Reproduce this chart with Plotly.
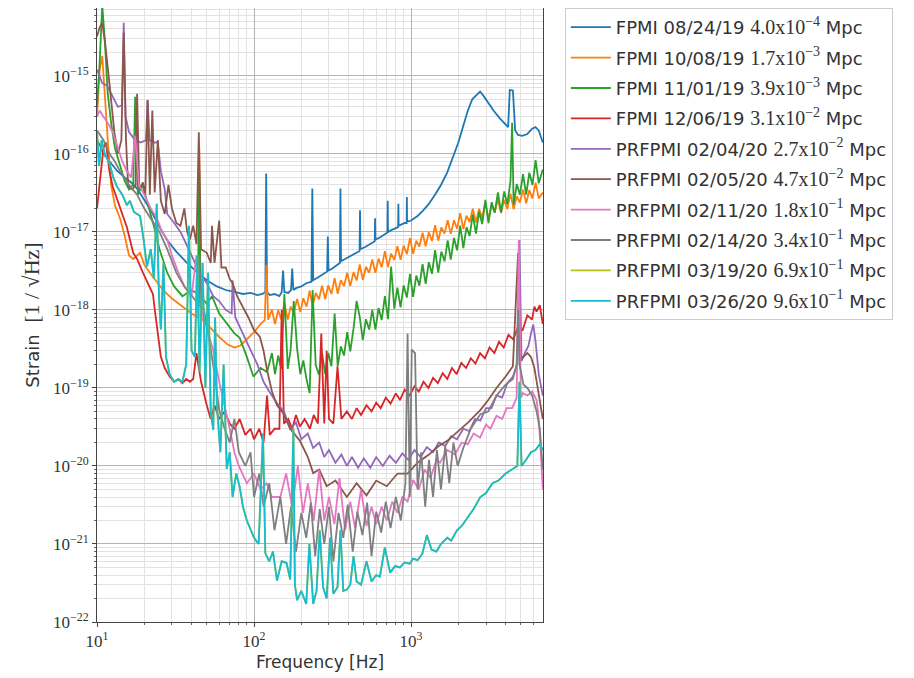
import plotly.graph_objects as go

# ---------------- data ----------------
labels = ["FPMI 08/24/19", "FPMI 10/08/19", "FPMI 11/01/19", "FPMI 12/06/19",
          "PRFPMI 02/04/20", "PRFPMI 02/05/20", "PRFPMI 02/11/20", "PRFPMI 02/14/20",
          "PRFPMI 03/19/20", "PRFPMI 03/26/20"]
range_mant = ["4.0", "1.7", "3.9", "3.1", "2.7", "4.7", "1.8", "3.4", "6.9", "9.6"]
range_exp = ["−4", "−3", "−3", "−2", "−2", "−2", "−1", "−1", "−1", "−1"]
colors = ["#1f77b4", "#ff7f0e", "#2ca02c", "#d62728", "#9467bd",
          "#8c564b", "#e377c2", "#7f7f7f", "#bcbd22", "#17becf"]

# FPMI 08/24/19
f_0824 = [10, 10.5, 11, 11.7, 12.5, 13.5, 15, 16.5, 18, 20,
          22, 25, 28, 32, 37, 43, 50, 58, 66, 75,
          85, 95, 105, 113, 118, 119.5, 121, 126, 135, 145,
          150, 153, 156, 165, 172, 175, 178, 185, 200, 215,
          232, 235, 238, 255, 275, 292, 295, 298, 315, 335,
          352, 355, 358, 380, 410, 440, 470, 473, 476, 510,
          550, 587, 590, 593, 640, 680, 707, 710, 713, 760,
          800, 827, 830, 833, 870, 910, 937, 940, 943, 1000,
          1100, 1200, 1300, 1420, 1550, 1700, 1850, 2000, 2150, 2300,
          2450, 2600, 2750, 2900, 3100, 3350, 3650, 3950, 4150, 4250,
          4350, 4450, 4600, 4800, 5100, 5500, 5900, 6200, 6500, 6900]
s_0824 = [1.5e-16, 1.25e-16, 1.0e-16, 8.5e-17, 7.2e-17, 6.0e-17, 5.0e-17, 4.3e-17, 3.6e-17, 2.6e-17,
          1.9e-17, 1.15e-17, 7.8e-18, 5.6e-18, 4.1e-18, 3.1e-18, 2.4e-18, 2.0e-18, 1.8e-18, 1.7e-18,
          1.6e-18, 1.65e-18, 1.55e-18, 1.6e-18, 1.7e-18, 5.6e-17, 1.7e-18, 1.55e-18, 1.6e-18, 1.5e-18,
          1.7e-18, 3.2e-18, 1.7e-18, 1.65e-18, 1.8e-18, 3.4e-18, 1.8e-18, 1.9e-18, 2.0e-18, 2.2e-18,
          2.3e-18, 3.6e-17, 2.4e-18, 2.6e-18, 2.9e-18, 3.1e-18, 8.7e-18, 3.2e-18, 3.4e-18, 3.7e-18,
          4.0e-18, 3.6e-17, 4.2e-18, 4.5e-18, 4.9e-18, 5.4e-18, 5.7e-18, 1.9e-17, 6.0e-18, 6.4e-18,
          7.0e-18, 7.6e-18, 1.5e-17, 8.0e-18, 8.6e-18, 9.3e-18, 9.8e-18, 2.5e-17, 1.0e-17, 1.07e-17,
          1.12e-17, 1.15e-17, 2.3e-17, 1.2e-17, 1.25e-17, 1.3e-17, 1.3e-17, 2.8e-17, 1.35e-17, 1.4e-17,
          1.6e-17, 1.9e-17, 2.3e-17, 3.0e-17, 4.0e-17, 5.8e-17, 9.0e-17, 1.4e-16, 2.3e-16, 3.6e-16,
          5.0e-16, 5.6e-16, 6.3e-16, 5.5e-16, 4.5e-16, 3.6e-16, 2.9e-16, 2.4e-16, 2.2e-16, 6.6e-16,
          6.6e-16, 6.5e-16, 2.0e-16, 1.75e-16, 1.7e-16, 1.8e-16, 2.1e-16, 2.2e-16, 2.0e-16, 1.4e-16]

# FPMI 10/08/19
f_1008 = [10, 10.4, 10.8, 11.3, 11.8, 12.3, 13, 14, 15, 16,
          17, 18.8, 20, 21.7, 24, 26.3, 30, 35, 40, 44,
          44.8, 45.6, 52, 60, 68, 75, 82, 90, 100, 110,
          117, 120, 123,
          130, 136, 142.5, 149, 156, 164, 171, 179, 188, 197,
          206, 216, 226, 236, 247, 259, 271, 284, 297, 311,
          326, 341, 357, 374, 392, 410, 430, 450, 471, 493,
          516, 541, 566, 593, 621, 650, 681, 713, 746, 782,
          818, 857, 897, 940, 984, 1030, 1079, 1130, 1183, 1239,
          1297, 1358, 1422, 1489, 1559, 1633, 1710, 1790, 1875, 1963,
          2055, 2152, 2254, 2360, 2471, 2588, 2710, 2837, 2971, 3111,
          3258, 3411, 3572, 3740, 3917, 4101, 4295, 4497, 4709, 4931,
          5163, 5407, 5662, 5928, 6208, 6500, 6900]
s_1008 = [3e-16, 1.2e-15, 1.8e-15, 4e-16, 1.2e-16, 4e-17, 2.2e-17, 1.5e-17, 9e-18, 5e-18,
          4.5e-18, 5.4e-18, 3.8e-18, 3e-18, 2.3e-18, 1.8e-18, 1.4e-18, 1.1e-18, 9e-19, 8e-19,
          1.2e-16, 8e-19, 6e-19, 4.5e-19, 3.6e-19, 3.3e-19, 3.5e-19, 4.2e-19, 5.2e-19, 6.6e-19,
          7.4e-19, 3.8e-18, 7.5e-19,
          1.0e-18, 6.6e-19, 9.9e-19, 7.6e-19, 1.2e-18, 7.5e-19, 1.1e-18, 9.2e-19, 1.38e-18, 9.4e-19,
          1.41e-18, 1.1e-18, 1.77e-18, 1.12e-18, 1.65e-18, 1.37e-18, 2.04e-18, 1.37e-18, 2.07e-18, 1.6e-18,
          2.56e-18, 1.61e-18, 2.4e-18, 2.02e-18, 3.0e-18, 2.02e-18, 3.05e-18, 2.38e-18, 3.84e-18, 2.42e-18,
          3.58e-18, 2.99e-18, 4.44e-18, 3.0e-18, 4.54e-18, 3.53e-18, 5.66e-18, 3.55e-18, 5.28e-18, 4.4e-18,
          6.56e-18, 4.4e-18, 6.67e-18, 5.19e-18, 8.32e-18, 5.23e-18, 7.7e-18, 6.51e-18, 9.75e-18, 6.56e-18,
          9.89e-18, 7.65e-18, 1.22e-17, 7.72e-18, 1.14e-17, 9.5e-18, 1.41e-17, 9.44e-18, 1.41e-17, 1.1e-17,
          1.74e-17, 1.09e-17, 1.61e-17, 1.34e-17, 1.98e-17, 1.32e-17, 1.98e-17, 1.51e-17, 2.39e-17, 1.48e-17,
          2.17e-17, 1.8e-17, 2.63e-17, 1.74e-17, 2.58e-17, 1.96e-17, 3.09e-17, 1.95e-17, 2.86e-17, 2.38e-17,
          3.5e-17, 2.32e-17, 3.45e-17, 2.68e-17, 4.29e-17, 2.69e-17, 3.2e-17]

# FPMI 11/01/19
f_1101 = [10, 10.4, 10.8, 11.2, 11.7, 12.3, 13, 14, 15, 16,
          17, 17.5, 18.2, 19.5, 20.8, 23, 25, 28, 31, 35,
          40, 44, 44.8, 45.6, 50, 54, 60, 68, 75, 81,
          90, 99, 110, 121,
          130, 136, 142.5, 149, 156, 164, 171, 179, 188, 197,
          206, 216, 226, 236, 247, 259, 271, 284, 297, 311,
          326, 341, 357, 374, 392, 410, 430, 450, 471, 493,
          516, 541, 566, 593, 621, 650, 681, 713, 746, 782,
          818, 857, 897, 940, 984, 1030, 1079, 1130, 1183, 1239,
          1297, 1358, 1422, 1489, 1559, 1633, 1710, 1790, 1875, 1963,
          2055, 2152, 2254, 2360, 2471, 2588, 2710, 2837, 2971, 3111,
          3258, 3411, 3572, 3740, 3917, 4101, 4295, 4400, 4497, 4709, 4931,
          5163, 5407, 5662, 5928, 6208, 6500, 6900]
s_1101 = [4e-16, 1.5e-15, 8e-15, 3e-15, 6e-16, 2.5e-16, 1.2e-16, 7e-17, 4.5e-17, 3.5e-17,
          4e-17, 5.4e-16, 3e-17, 4e-17, 2.5e-17, 1.2e-17, 6e-18, 3e-18, 2e-18, 1.5e-18,
          1.8e-18, 1.6e-18, 6e-17, 1.5e-18, 1.2e-18, 1.5e-18, 9e-19, 6.5e-19, 5e-19, 4.4e-19,
          2.5e-19, 1.4e-19, 1.8e-19, 1.6e-19,
          2.8e-19, 1.5e-19, 2.6e-19, 1.76e-19, 1.6e-18, 1.75e-19, 3.1e-19, 1.3e-18, 3.2e-19, 1.5e-19,
          2.25e-19, 1.28e-19, 8.6e-20, 1.8e-18, 1.98e-19, 1.48e-19, 2.8e-19, 1.5e-19, 2.8e-19, 1.9e-19,
          9e-19, 1.9e-19, 3.4e-19, 2.6e-19, 5.2e-19, 2.95e-19, 5.75e-19, 1.3e-18, 8.1e-19, 4.1e-19,
          7.6e-19, 5.6e-19, 1.0e-18, 5.6e-19, 1.06e-18, 7.4e-19, 1.5e-18, 7.6e-19, 3.6e-18, 1.04e-18,
          1.93e-18, 1.08e-18, 2.06e-18, 1.44e-18, 2.9e-18, 1.47e-18, 2.76e-18, 2.05e-18, 3.85e-18, 2.16e-18,
          4.1e-18, 2.9e-18, 5.85e-18, 3.0e-18, 5.6e-18, 4.2e-18, 7.8e-18, 4.4e-18, 8.4e-18, 5.8e-18,
          1.2e-17, 6.2e-18, 1.15e-17, 8.9e-18, 1.68e-17, 9.5e-18, 1.81e-17, 1.26e-17, 2.58e-17, 1.3e-17,
          2.4e-17, 1.76e-17, 3.2e-17, 1.78e-17, 3.3e-17, 2.26e-17, 4.5e-17, 2.5e-16, 2.24e-17, 4.1e-17, 3.0e-17,
          5.5e-17, 3.0e-17, 5.75e-17, 4.0e-17, 8.3e-17, 4.2e-17, 6.3e-17]

# FPMI 12/06/19
f_1206 = [10, 10.5, 11.0, 11.4, 12, 12.6, 13.5, 14.5, 15.5, 17,
          18, 19.6, 21, 22.7, 23.5, 24.5, 25.5, 27, 29, 31,
          33, 35, 37, 39, 41, 43, 46, 50, 53, 56,
          60, 65, 70, 75, 81, 88, 95, 100, 108, 115,
          121, 126, 135, 145, 150, 155, 165, 175, 185, 196,
          210, 227, 240, 255, 268, 280, 290, 300, 320, 340,
          360, 390, 420, 450, 480, 520, 560, 600, 640, 690,
          740, 800, 850, 910, 980, 1050, 1120, 1200, 1290, 1380,
          1480, 1590, 1700, 1820, 1950, 2090, 2240, 2400, 2570, 2750,
          2950, 3160, 3390, 3630, 3890, 4170, 4470, 4790, 5130, 5500,
          5890, 6100, 6300, 6600, 6900]
s_1206 = [2e-17, 5e-17, 1.2e-16, 1.4e-16, 6e-17, 3.8e-17, 2.5e-17, 1.7e-17, 1.15e-17, 5.4e-18,
          4.5e-18, 3e-18, 2.2e-18, 1.6e-18, 9e-19, 4.5e-19, 2.5e-19, 1.8e-19, 1.4e-19, 1.2e-19,
          1.3e-19, 1.15e-19, 1.3e-19, 1.2e-19, 1.3e-19, 2.8e-19, 1.2e-19, 6e-20, 4e-20, 6e-20,
          4e-20, 5e-20, 3.5e-20, 3e-20, 4e-20, 2.5e-20, 3e-20, 2.2e-20, 3e-20, 2e-20,
          8e-20, 2.5e-20, 3e-20, 3e-20, 1e-18, 3.5e-20, 4e-20, 3e-20, 4.5e-20, 3.2e-20,
          4e-20, 3e-20, 4.5e-20, 3.5e-20, 5e-19, 3.5e-20, 3e-19, 4e-20, 3.5e-20, 1.9e-19,
          4e-20, 5e-20, 4e-20, 5.5e-20, 4.5e-20, 6e-20, 5e-20, 6.5e-20, 5.5e-20, 7.5e-20,
          6.3e-20, 8.5e-20, 7e-20, 9.5e-20, 8e-20, 1.05e-19, 9e-20, 1.2e-19, 1e-19, 1.35e-19,
          1.15e-19, 1.55e-19, 1.3e-19, 1.8e-19, 1.5e-19, 2.1e-19, 1.8e-19, 2.4e-19, 2.05e-19, 2.8e-19,
          2.4e-19, 3.3e-19, 2.8e-19, 3.9e-19, 3.3e-19, 4.8e-19, 4.2e-19, 6e-19, 5.5e-19, 8.5e-19,
          7.5e-19, 1.1e-18, 9.5e-19, 1.15e-18, 6.6e-19]

# PRFPMI 02/04/20
f_0204 = [10, 10.8, 11.6, 12.5, 13.6, 14.4, 14.8, 15.2, 16, 17.5,
          19, 20.5, 21, 21.6, 23, 24.4, 25.5, 27, 28, 31,
          34, 37, 41, 45, 50, 55, 60, 66, 72, 73,
          76, 85, 95, 105, 115, 125, 140, 155, 170, 185,
          200, 220, 238, 260, 280, 300, 330, 360, 390, 420,
          460, 500, 550, 600, 660, 730, 800, 880, 960, 1050,
          1150, 1260, 1380, 1500, 1650, 1800, 1960, 2150, 2350, 2550,
          2760, 3000, 3250, 3500, 3800, 4100, 4450, 4750, 4900, 5050,
          5300, 5600, 5800, 6000, 6200, 6500, 6900]
s_0204 = [1.2e-15, 8.1e-16, 7.5e-16, 5.5e-16, 4e-16, 4.2e-16, 4.8e-15, 3e-16, 1.9e-16, 1.5e-16,
          1.4e-16, 1.5e-16, 4.9e-16, 1.5e-16, 1.4e-16, 1.4e-16, 6e-17, 3.5e-17, 1.7e-17, 1.3e-17,
          1e-17, 7e-18, 4.4e-18, 3e-18, 2.2e-18, 1.5e-18, 1.3e-18, 1e-18, 9e-19, 2.4e-18,
          8e-19, 5e-19, 3e-19, 2e-19, 1.2e-19, 9e-20, 6.4e-20, 5e-20, 3e-20, 3.6e-20,
          2.2e-20, 2.6e-20, 1.7e-20, 2e-20, 1.3e-20, 1.6e-20, 1.1e-20, 1.4e-20, 1e-20, 1.3e-20,
          9.5e-21, 1.25e-20, 9.5e-21, 1.3e-20, 1e-20, 1.35e-20, 1.1e-20, 1.45e-20, 1.2e-20, 1.6e-20,
          1.3e-20, 1.75e-20, 1.5e-20, 2e-20, 1.8e-20, 2.4e-20, 2.2e-20, 3e-20, 2.8e-20, 4e-20,
          3.8e-20, 5.5e-20, 5.5e-20, 8e-20, 7.5e-20, 1.15e-19, 1.4e-19, 2e-19, 7.9e-18, 2.2e-19,
          2.8e-19, 3.5e-19, 5e-19, 6.5e-19, 4e-19, 1.5e-19, 8e-20]

# PRFPMI 02/05/20
f_0205 = [10, 10.4, 10.8, 11.3, 12, 12.9, 13.6, 14.3, 14.8, 15.3,
          15.8, 16.8, 17.6, 18, 18.6, 19.6, 20.3, 21, 21.7, 22.5,
          23.3, 24.4, 25.5, 27, 28.5, 30, 32, 34, 36, 37.5,
          39, 41, 43, 44.5, 46, 50, 53, 54, 56, 60,
          62, 66, 70, 73, 78, 85, 92, 100, 109, 115,
          121, 130, 140, 153, 170, 196, 220, 238, 260, 290,
          330, 390, 450, 520, 600, 700, 820, 950, 1100, 1300,
          1500, 1700, 2000, 2300, 2760, 3100, 3500, 4000, 4450, 4800,
          4950, 5200, 5500, 5800, 6100, 6400, 6900]
s_0205 = [3.2e-15, 4.2e-15, 4.8e-15, 2.5e-15, 8e-16, 1.9e-16, 1e-16, 1.5e-16, 3.6e-15, 1.5e-16,
          3.8e-17, 3.5e-17, 4e-17, 5.9e-16, 3.5e-17, 4.3e-17, 3e-17, 4.9e-16, 3e-17, 3.6e-16,
          3.2e-17, 1.5e-16, 2.5e-17, 1.7e-17, 4e-17, 2e-17, 1.3e-17, 1.2e-17, 2e-17, 1e-17,
          8e-18, 1.2e-17, 7e-18, 1.9e-16, 6e-18, 5.4e-18, 4e-18, 1.2e-17, 4e-18, 1.4e-17,
          3.5e-18, 3.5e-18, 2.5e-18, 2.2e-18, 1.5e-18, 1.1e-18, 8e-19, 5.5e-19, 4.5e-19, 3e-19,
          1.7e-19, 9e-20, 6e-20, 4.8e-20, 3e-20, 2.1e-20, 1.3e-20, 8.1e-21, 9e-21, 5.5e-21,
          6.5e-21, 4e-21, 6e-21, 4.2e-21, 6.5e-21, 5.5e-21, 8e-21, 8e-21, 1.1e-20, 1.4e-20,
          1.8e-20, 2.1e-20, 2.8e-20, 3.6e-20, 5.2e-20, 7e-20, 1e-19, 1.4e-19, 1.9e-19, 5.4e-18,
          2.3e-19, 2.5e-19, 2.8e-19, 2.5e-19, 1.8e-19, 1e-19, 4e-20]

# PRFPMI 02/11/20
f_0211 = [10, 10.4, 11, 11.7, 12.6, 13.5, 14.5, 15.5, 16.5, 17.5,
          18.5, 20, 22, 24, 26, 28, 30, 33, 36, 40,
          43, 45, 50, 55, 60, 65, 70, 75, 80, 90,
          100, 110, 120, 130, 147, 160, 175, 190, 205, 220,
          240, 260, 280, 300, 325, 350, 380, 410, 440, 480,
          520, 560, 600, 650, 700, 760, 820, 880, 950, 1030,
          1120, 1220, 1330, 1450, 1530, 1700, 1900, 2100, 2300, 2500,
          2750, 3000, 3200, 3500, 3800, 4060, 4400, 4700, 4850, 5000,
          5150, 5500, 5900, 6300, 6500, 6700, 6900]
s_0211 = [3e-16, 3.6e-16, 3e-16, 2.5e-16, 1.9e-16, 1.2e-16, 8e-17, 6e-17, 5e-17, 1.7e-16,
          4e-17, 3e-17, 2e-17, 1.5e-17, 1e-17, 8e-18, 5e-18, 3e-18, 2e-18, 1.5e-18,
          5e-18, 1.2e-18, 6e-19, 3e-19, 1.2e-19, 6e-20, 3e-20, 1.5e-20, 1e-20, 6e-21,
          8e-21, 5e-21, 6e-21, 4e-21, 4e-21, 8e-21, 3e-21, 1e-20, 2.5e-21, 6e-21,
          2e-21, 9e-21, 2e-21, 4e-21, 1.8e-21, 7e-21, 1.5e-21, 3.5e-21, 1.6e-21, 5e-21,
          1.7e-21, 3e-21, 1.8e-21, 3e-21, 2e-21, 3.5e-21, 2.5e-21, 4e-21, 3.5e-21, 6.6e-21,
          5e-21, 9e-21, 7e-21, 1.2e-20, 1.1e-20, 1.6e-20, 1.4e-20, 2e-20, 1.9e-20, 2.6e-20,
          2.3e-20, 3.4e-20, 3e-20, 4.4e-20, 4e-20, 5.5e-20, 5.5e-20, 7.5e-20, 7.9e-18, 7.5e-20,
          8.6e-20, 8e-20, 9e-20, 7e-20, 4e-20, 1.5e-20, 5e-21]

# PRFPMI 02/14/20
f_0214 = [10, 11, 12, 13, 14, 15, 16, 18, 20, 22,
          25, 28, 32, 36, 40, 44, 44.8, 45.6, 48, 52,
          56, 60, 65, 70, 75, 80, 88, 95, 100, 108,
          115, 125, 135, 147, 160, 172, 185, 200, 215, 230,
          245, 262, 280, 300, 320, 345, 370, 395, 425, 455,
          490, 525, 560, 600, 645, 690, 740, 800, 860, 920,
          950, 980, 1010, 1060, 1100, 1160, 1230, 1300, 1380, 1460,
          1550, 1650, 1750, 1860, 1980, 2150, 2400, 2760, 3100, 3500,
          4000, 4450, 4700, 4800, 4900, 5200, 5500, 5900, 6300, 6600,
          6900]
s_0214 = [2e-16, 1.5e-16, 1e-16, 8e-17, 6e-17, 5e-17, 4e-17, 3e-17, 2e-17, 1.5e-17,
          1e-17, 6e-18, 3e-18, 2e-18, 1.5e-18, 1.2e-18, 5e-18, 1.1e-18, 1e-18, 4e-19,
          1.5e-19, 5.2e-20, 3e-20, 2e-20, 4e-20, 1.5e-20, 1e-20, 1.5e-20, 4e-21, 8e-21,
          3e-21, 6e-21, 1.5e-21, 4e-21, 1e-21, 3e-21, 8e-22, 2.5e-21, 1.2e-21, 3.4e-21,
          7e-22, 2.8e-21, 1e-21, 3e-21, 6e-22, 2.5e-21, 1.2e-21, 3.2e-21, 8e-22, 2.6e-21,
          1.3e-21, 3.4e-21, 7e-22, 2.6e-21, 1.4e-21, 3.5e-21, 1.6e-21, 4e-21, 2e-21, 6e-21,
          5e-19, 4e-21, 3.1e-19, 2.8e-19, 5e-21, 1.5e-20, 3e-21, 1.2e-20, 4e-21, 1.6e-20,
          5e-21, 1.8e-20, 6e-21, 2e-20, 1e-20, 1.7e-20, 3e-20, 4.6e-20, 5e-20, 8e-20,
          1.1e-19, 1.3e-19, 2e-19, 1e-18, 2e-19, 1.1e-19, 1e-19, 8e-20, 5e-20, 3e-20,
          9e-21]

# PRFPMI 03/26/20 (frequency grid also used for 03/19/20)
f_0326 = [10, 10.3, 10.7, 11.2, 12, 12.7, 13.4, 14.5, 15.5, 16.2,
          17.2, 18.8, 19.8, 20.8, 22, 23, 24, 24.8, 25.5, 26.5,
          27.5, 29, 31, 33, 35, 37, 38.5, 40, 42, 43.5,
          45, 47, 49, 51, 53, 55, 56.5, 58, 61, 64,
          67, 70, 73, 77, 81, 85, 90, 95, 100, 107,
          114, 118, 125, 132, 140, 150, 161, 170, 178, 182,
          188, 200, 215, 225, 238, 250, 262, 275, 290, 305,
          320, 340, 355, 370, 390, 410, 430, 450, 480, 520,
          560, 600, 633, 680, 735, 790, 850, 910, 980, 1030,
          1100, 1180, 1260, 1350, 1450, 1550, 1700, 1800, 1960, 2100,
          2300, 2500, 2760, 3000, 3300, 3600, 4000, 4450, 4750, 4900,
          5050, 5400, 5800, 6200, 6600, 6900]
s_0326 = [1.9e-16, 7e-17, 1.5e-16, 1e-16, 7.6e-17, 5e-17, 3.8e-17, 3e-17, 2.2e-17, 2.5e-17,
          1.8e-17, 1.6e-17, 8e-18, 3.6e-18, 6e-18, 2.5e-18, 2.3e-17, 1.5e-18, 5.6e-19, 4e-18,
          2.5e-19, 1.5e-19, 1.2e-19, 1.3e-19, 1.2e-19, 2e-19, 1.2e-17, 3e-19, 2.5e-19, 5e-18,
          1.6e-19, 4e-18, 1e-19, 3e-18, 5e-20, 2.9e-20, 8e-19, 6e-20, 1.5e-20, 2e-19,
          9.2e-21, 1.5e-20, 4e-21, 8e-21, 5.4e-21, 3e-21, 2e-21, 1.5e-21, 1.2e-21, 1e-21,
          2.6e-20, 7.6e-22, 6e-22, 8e-22, 3.4e-22, 6e-22, 5.7e-22, 3.5e-22, 3e-20, 3e-22,
          1.9e-22, 2.5e-22, 1.7e-22, 1e-21, 1.7e-22, 2.5e-22, 1.5e-21, 2.8e-22, 2e-22, 1.2e-21,
          2.3e-22, 2.8e-22, 1.5e-21, 2.5e-22, 2.6e-22, 3e-22, 7e-22, 3.3e-22, 3e-22, 6e-22,
          3.3e-22, 4e-22, 3.8e-22, 9e-22, 4.3e-22, 5.2e-22, 5e-22, 5.8e-22, 5.6e-22, 6.5e-22,
          6.2e-22, 7.5e-22, 1.3e-21, 8.5e-22, 8e-22, 1e-21, 1.2e-21, 1.1e-21, 1.5e-21, 1.7e-21,
          2.2e-21, 2.8e-21, 4e-21, 4.5e-21, 6e-21, 6.5e-21, 8e-21, 9.2e-21, 1e-20, 1.2e-19,
          1e-20, 1.2e-20, 1.5e-20, 1.6e-20, 1.9e-20, 1.6e-20]

# PRFPMI 03/19/20 (lies under the 03/26/20 trace in the picture)
f_0319 = f_0326
s_0319 = [1.9e-16, 7e-17, 1.5e-16, 1e-16, 7.6e-17, 5e-17, 3.8e-17, 3e-17, 2.2e-17, 2.5e-17,
          1.8e-17, 1.6e-17, 8e-18, 3.6e-18, 6e-18, 2.5e-18, 2.3e-17, 1.5e-18, 5.6e-19, 4e-18,
          2.5e-19, 1.5e-19, 1.2e-19, 1.3e-19, 1.2e-19, 2e-19, 1.2e-17, 3e-19, 2.5e-19, 5e-18,
          1.6e-19, 4e-18, 1e-19, 3e-18, 5e-20, 2.9e-20, 8e-19, 6e-20, 1.5e-20, 2e-19,
          9.2e-21, 1.5e-20, 4e-21, 8e-21, 5.4e-21, 3e-21, 2e-21, 1.5e-21, 1.2e-21, 1e-21,
          2.6e-20, 7.6e-22, 6e-22, 8e-22, 3.4e-22, 6e-22, 5.7e-22, 3.5e-22, 3e-20, 3e-22,
          1.9e-22, 2.5e-22, 1.7e-22, 1e-21, 1.7e-22, 2.5e-22, 1.5e-21, 2.8e-22, 2e-22, 1.2e-21,
          2.3e-22, 2.8e-22, 1.5e-21, 2.5e-22, 2.6e-22, 3e-22, 7e-22, 3.3e-22, 3e-22, 6e-22,
          3.3e-22, 4e-22, 3.8e-22, 9e-22, 4.3e-22, 5.2e-22, 5e-22, 5.8e-22, 5.6e-22, 6.5e-22,
          6.2e-22, 7.5e-22, 1.3e-21, 8.5e-22, 8e-22, 1e-21, 1.2e-21, 1.1e-21, 1.5e-21, 1.7e-21,
          2.2e-21, 2.8e-21, 4e-21, 4.5e-21, 6e-21, 6.5e-21, 8e-21, 9.2e-21, 1e-20, 1.2e-19,
          1e-20, 1.2e-20, 1.5e-20, 1.6e-20, 1.9e-20, 1.6e-20]

freqs = [f_0824, f_1008, f_1101, f_1206, f_0204, f_0205, f_0211, f_0214, f_0319, f_0326]
strains = [s_0824, s_1008, s_1101, s_1206, s_0204, s_0205, s_0211, s_0214, s_0319, s_0326]

x_tick_vals = [10, 100, 1000]
x_tick_text = ["10<sup>1</sup>", "10<sup>2</sup>", "10<sup>3</sup>"]
y_tick_vals = [1e-22, 1e-21, 1e-20, 1e-19, 1e-18, 1e-17, 1e-16, 1e-15]
y_tick_text = ["10<sup>−22</sup>", "10<sup>−21</sup>", "10<sup>−20</sup>", "10<sup>−19</sup>",
               "10<sup>−18</sup>", "10<sup>−17</sup>", "10<sup>−16</sup>", "10<sup>−15</sup>"]

# ---------------- figure ----------------
for f, s, n in zip(freqs, strains, labels):
    assert len(f) == len(s), (n, len(f), len(s))

SANS = "DejaVu Sans"
SERIF = "Liberation Serif"

fig = go.Figure()
for i in range(len(labels)):
    name = (f"{labels[i]} <span style=\"font-family:{SERIF};font-size:20px\">{range_mant[i]}x10"
            f"<sup>{range_exp[i]}</sup></span> Mpc")
    fig.add_trace(go.Scatter(x=freqs[i], y=strains[i], mode="lines", name=name,
                             legendgroup=str(i),
                             line=dict(color=colors[i], width=1.8)))

x_minor = [m * 10 ** k for k in (1, 2, 3) for m in range(2, 10) if m * 10 ** k < 7000]
y_minor = [m * 10.0 ** k for k in range(-22, -14) for m in range(2, 10)]

axis_common = dict(type="log", showline=True, linecolor="#444", linewidth=1, mirror=True,
                   showgrid=True, gridcolor="#b4b4b4", gridwidth=1,
                   ticks="outside", ticklen=4, tickcolor="#444",
                   tickfont=dict(family=SERIF, size=17, color="#333"),
                   zeroline=False)

fig.update_xaxes(**axis_common, range=[1, 3.84], tickvals=x_tick_vals, ticktext=x_tick_text,
                 minor=dict(tickvals=x_minor, showgrid=True, gridcolor="#e2e2e2",
                            ticks="outside", ticklen=2, tickcolor="#666"),
                 title=dict(text="Frequency [Hz]", font=dict(family=SANS, size=17, color="#333"),
                            standoff=5))
fig.update_yaxes(**axis_common, range=[-22, -14.13], tickvals=y_tick_vals, ticktext=y_tick_text,
                 minor=dict(tickvals=y_minor, showgrid=True, gridcolor="#e2e2e2",
                            ticks="outside", ticklen=2, tickcolor="#666"),
                 title=dict(text=(f"Strain  <span style=\"font-family:{SERIF};font-size:22px\">"
                                  f"[1 / √Hz]</span>"),
                            font=dict(family=SANS, size=18, color="#333"), standoff=8))

# the page adds an 8 px body margin, so the figure is 8 px smaller on each axis
fig.update_layout(
    width=906, height=670,
    margin=dict(l=89, r=371, t=0, b=56, autoexpand=False),
    plot_bgcolor="white", paper_bgcolor="white",
    showlegend=True,
    legend=dict(x=1.049, y=1.0, xanchor="left", yanchor="top",
                bgcolor="white", bordercolor="#cccccc", borderwidth=1,
                font=dict(family=SANS, size=18, color="#333"),
                tracegroupgap=4, itemwidth=40),
)

fig.write_html("out.html")
